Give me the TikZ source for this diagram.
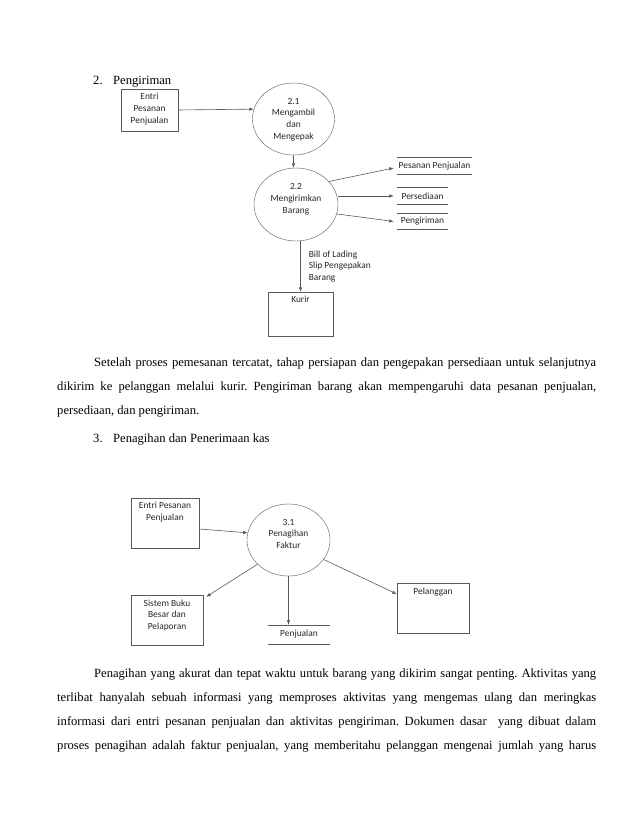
\documentclass[tikz,border=0pt]{standalone}
\usepackage{fontspec}
\setmainfont{Liberation Serif}
\newfontfamily\dfdfont{Carlito}
\usetikzlibrary{shapes.geometric, arrows.meta, positioning}
\newcommand{\boxtxt}[3]{\parbox[c][#2][t]{#1}{\centering\vspace*{4.5pt}#3}}
\newcommand{\proctxt}[1]{\parbox[c][42pt][t]{58pt}{\centering #1}}
\frenchspacing

\begin{document}
\begin{tikzpicture}[x=1pt, y=-1pt,
            dfd/.style={font=\dfdfont\fontsize{9.4}{11.8}\selectfont, text=black!85},
            ent/.style={dfd, draw=black!65, inner sep=0pt},
            proc/.style={dfd, ellipse, draw=black!65, inner sep=0pt},
            store/.style={dfd, inner sep=0pt},
            ed/.style={draw=black!65, line width=0.6pt},
            flow/.style={ed, -{Latex[length=4.5pt, width=3.5pt]}},
            body/.style={anchor=base west, inner sep=0pt, font=\fontsize{12.6}{24}\selectfont}]
            \useasboundingbox (0,0) rectangle (638,826);
            % 2. Pengiriman
            \node[body] (head2) at (93,85) {\makebox[20pt][l]{2.}Pengiriman};
            \node[ent] (entri2) at (149.5,110) {\boxtxt{57pt}{42pt}{Entri\\Pesanan\\Penjualan}};
            \node[proc, minimum width=81pt, minimum height=72pt] (p21) at (293.5,119) {\proctxt{2.1\\Mengambil\\dan\\Mengepak}};
            \node[proc, minimum width=84pt, minimum height=73pt] (p22) at (296,204.5) {\proctxt{2.2\\Mengirimkan\\Barang}};
            \node[store, minimum width=75pt, minimum height=16pt] (pp) at (434.5,166) {Pesanan Penjualan};
            \node[store, minimum width=51pt, minimum height=16pt] (ps) at (422.5,196) {Persediaan};
            \node[store, minimum width=51pt, minimum height=15pt] (pg) at (422.5,221.5) {Pengiriman};
            \node[ent] (kurir) at (300.5,314) {\boxtxt{65pt}{44pt}{Kurir}};
            \draw[flow] (entri2.east) -- (p21.166);
            \draw[flow] (p21.south) -- (p21.south |- p22.north);
            \draw[flow] (p22.35) -- ([shift={(-3pt,-2pt)}]pp.west);
            \draw[flow] (ps.west -| p22.east) -- ([xshift=-3pt]ps.west);
            \draw[flow] (p22.-13) -- ([xshift=-3pt]pg.west);
            \draw[flow] (kurir.north |- p22.south) -- (kurir.north)
                node[dfd, midway, anchor=west, xshift=8pt, align=left, inner sep=0pt] (bol) {Bill of Lading\\Slip Pengepakan\\Barang};
            \node[body, text width=539pt, align=justify] (para1) at (57,366) {\hspace*{37pt}Setelah proses pemesanan tercatat, tahap persiapan dan pengepakan persediaan untuk selanjutnya\linebreak dikirim ke pelanggan melalui kurir. Pengiriman barang akan mempengaruhi data pesanan penjualan,\linebreak persediaan, dan pengiriman.};
            % 3. Penagihan dan Penerimaan kas
            \node[body] (head3) at (93,442) {\makebox[20pt][l]{3.}Penagihan dan Penerimaan kas};
            \node[ent] (entri3) at (165,523) {\boxtxt{68pt}{50pt}{Entri Pesanan\\Penjualan}};
            \node[proc, minimum width=83pt, minimum height=72pt] (p31) at (288.5,540) {\proctxt{3.1\\Penagihan\\Faktur}};
            \node[ent] (sistem) at (167,620) {\boxtxt{72pt}{50pt}{Sistem Buku\\Besar dan\\Pelaporan}};
            \node[store, minimum width=62pt, minimum height=19pt] (pj) at (299,634.5) {Penjualan};
            \node[ent] (plg) at (433,608) {\boxtxt{72pt}{50pt}{Pelanggan}};
            \draw[flow] ([yshift=-6pt]entri3.east) -- (p31.170);
            \draw[flow] (p31.218) -- ([shift={(3pt,-2pt)}]sistem.north east);
            \draw[flow] (p31.south) -- (p31.south |- pj.north);
            \draw[flow] (p31.-29) -- ([yshift=14pt]plg.west);
            \foreach \s in {pp,ps,pg,pj} { \draw[ed] (\s.north west) -- (\s.north east) (\s.south west) -- (\s.south east); }
            \node[body, text width=539pt, align=justify] (para2) at (57,677) {\hspace*{37pt}Penagihan yang akurat dan tepat waktu untuk barang yang dikirim sangat penting. Aktivitas yang\linebreak terlibat hanyalah sebuah informasi yang memproses aktivitas yang mengemas ulang dan meringkas\linebreak informasi dari entri pesanan penjualan dan aktivitas pengiriman. Dokumen dasar\ \ yang dibuat dalam\linebreak proses penagihan adalah faktur penjualan, yang memberitahu pelanggan mengenai jumlah yang harus\parfillskip=0pt\par};
        \end{tikzpicture}
\end{document}
